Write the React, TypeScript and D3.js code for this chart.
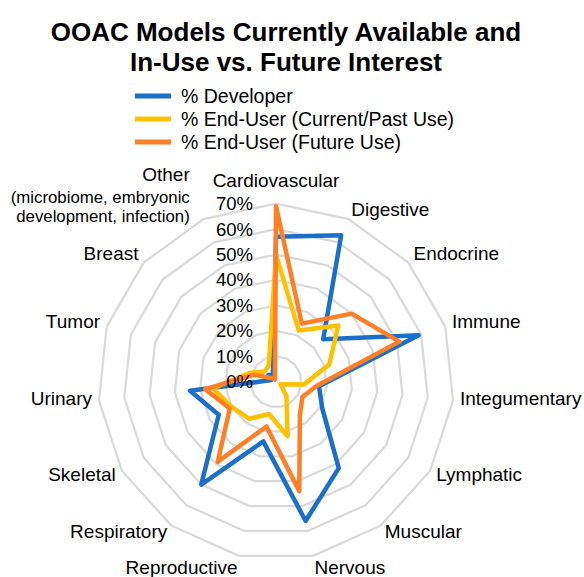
import { useEffect, useRef } from 'react';
import * as d3 from 'd3';

const categories = [
  ['Cardiovascular'],
  ['Digestive'],
  ['Endocrine'],
  ['Immune'],
  ['Integumentary'],
  ['Lymphatic'],
  ['Muscular'],
  ['Nervous'],
  ['Reproductive'],
  ['Respiratory'],
  ['Skeletal'],
  ['Urinary'],
  ['Tumor'],
  ['Breast'],
  ['Other', '(microbiome, embryonic', 'development, infection)'],
];

const developer = [57, 63, 25, 59, 17, 21, 42, 56, 24, 50, 26, 34, 2, 4, 3];
const endUserCurrent = [50, 22, 33, 22, 11, 2, 7, 22, 13, 18, 20, 25, 11, 6, 7];
const endUserFuture = [69, 25, 40, 51, 16, 12, 16, 44, 18, 39, 21, 28, 9, 2, 1];

const ticks = [0, 10, 20, 30, 40, 50, 60, 70];

const seriesNames = ['% Developer', '% End-User (Current/Past Use)', '% End-User (Future Use)'];
const seriesColors = ['#1b6fc8', '#ffc000', '#ff7f27'];

function App() {
  const ref = useRef<SVGSVGElement>(null);

  useEffect(() => {
    const width = 584;
    const height = 577;
    const cx = 276;
    const cy = 381.7;
    const font = 'Liberation Sans, Arial, sans-serif';

    const svg = d3.select(ref.current);
    svg.selectAll('*').remove();
    svg.attr('width', width).attr('height', height);

    const r = d3.scaleLinear().domain([0, 70]).range([0, 178]);
    const angle = d3
      .scaleLinear()
      .domain([0, categories.length])
      .range([0, 2 * Math.PI]);

    const g = svg.append('g').attr('transform', `translate(${cx},${cy})`);

    // grid rings
    const ringLine = d3
      .lineRadial<number>()
      .angle((_, i) => angle(i))
      .radius((d) => r(d))
      .curve(d3.curveLinearClosed);

    g.append('g')
      .selectAll('path')
      .data(ticks.filter((t) => t > 0))
      .join('path')
      .attr('d', (t) => ringLine(categories.map(() => t)))
      .attr('fill', 'none')
      .attr('stroke', '#d9d9d9')
      .attr('stroke-width', 2.2);

    // series
    const seriesLine = d3
      .lineRadial<number>()
      .angle((_, i) => angle(i))
      .radius((d) => r(d))
      .curve(d3.curveLinearClosed);

    const series = [developer, endUserCurrent, endUserFuture];
    g.append('g')
      .selectAll('path')
      .data(series)
      .join('path')
      .attr('d', (d) => seriesLine(d))
      .attr('fill', 'none')
      .attr('stroke', (_, i) => seriesColors[i])
      .attr('stroke-width', 4.5)
      .attr('stroke-linejoin', 'round');

    // tick labels (drawn over the lines, like the original)
    g.append('g')
      .selectAll('text')
      .data(ticks)
      .join('text')
      .attr('x', -23)
      .attr('y', (t) => -r(t))
      .attr('dy', '0.35em')
      .attr('text-anchor', 'end')
      .attr('font-family', font)
      .attr('font-size', 18.5)
      .attr('fill', '#000')
      .text((t) => `${t}%`);

    // category labels
    const labelR = 185;
    const labels = g.append('g');
    categories.forEach((lines, i) => {
      const a = angle(i);
      const s = Math.sin(a);
      const c = Math.cos(a);
      const px = labelR * s + (lines.length > 1 ? -11 : 0);
      const py = -labelR * c;
      const anchor = s > 0.05 ? 'start' : s < -0.05 ? 'end' : 'middle';
      const sizes = lines.map((_, j) => (j === 0 ? 19 : 16.8));
      const lineH = lines.map((_, j) => (j === 0 ? 0 : j === 1 ? 22 : 19));
      const h = lines.length === 1 ? 21 : 62;
      let shift = 0;
      if (c > 0.95) shift = -h * 0.8;
      else if (c > 0.8) shift = -h * (lines.length > 1 ? 0.28 : 0.18);
      else if (c < -0.95) shift = 5;
      else if (Math.abs(c) < 0.8 && Math.abs(c) > 0.4) shift = c > 0 ? -5 : 0;
      else if (Math.abs(c) <= 0.4) shift = -3;
      const centerY = py + shift;
      const firstY = centerY - d3.sum(lineH) / 2;
      let yy = firstY;
      const t = labels
        .append('text')
        .attr('text-anchor', anchor)
        .attr('font-family', font)
        .attr('fill', '#000');
      lines.forEach((line, j) => {
        yy += lineH[j];
        t.append('tspan')
          .attr('x', px)
          .attr('y', yy)
          .attr('dy', '0.35em')
          .attr('font-size', sizes[j])
          .text(line);
      });
    });

    // title
    const title = svg
      .append('text')
      .attr('text-anchor', 'middle')
      .attr('font-family', font)
      .attr('font-weight', 'bold')
      .attr('font-size', 26)
      .attr('fill', '#000');
    ['OOAC Models Currently Available and', 'In-Use vs. Future Interest'].forEach((l, i) => {
      title
        .append('tspan')
        .attr('x', 286)
        .attr('y', 41 + i * 30)
        .text(l);
    });

    // legend
    const legend = svg
      .append('g')
      .selectAll('g')
      .data(seriesNames)
      .join('g')
      .attr('transform', (_, i) => `translate(135,${96 + i * 23})`);
    legend
      .append('line')
      .attr('x1', 0)
      .attr('x2', 36)
      .attr('stroke', (_, i) => seriesColors[i])
      .attr('stroke-width', 5);
    legend
      .append('text')
      .attr('x', 46)
      .attr('dy', '0.35em')
      .attr('font-family', font)
      .attr('font-size', 19.5)
      .attr('fill', '#000')
      .text((d) => d);
  }, []);

  return (
    <div style={{ position: 'absolute', left: 0, top: 0 }}>
      <svg ref={ref} style={{ display: 'block' }}></svg>
    </div>
  );
}

export default App;
